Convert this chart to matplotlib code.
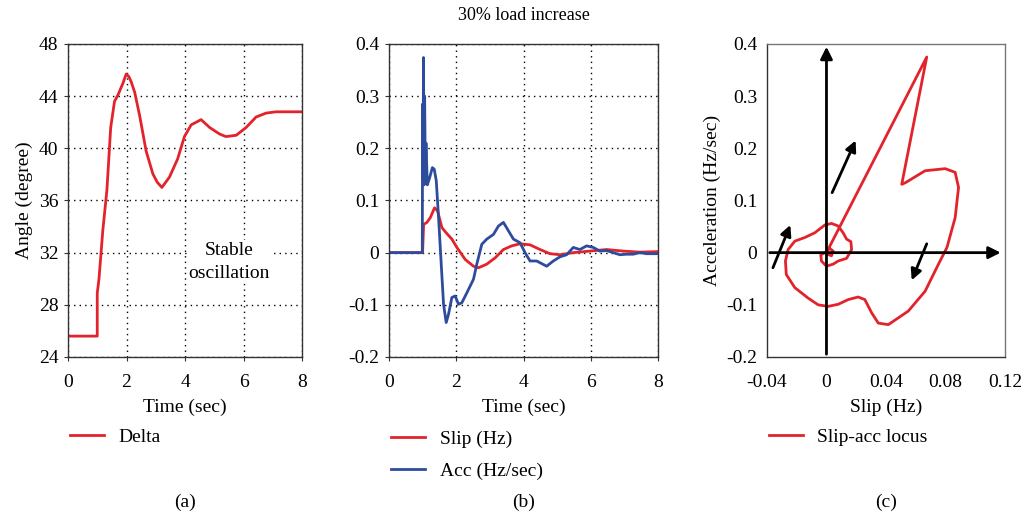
import numpy as np
import matplotlib
matplotlib.use("Agg")
import matplotlib.pyplot as plt

plt.rcParams["font.family"] = ["Liberation Serif", "DejaVu Serif"]
plt.rcParams["axes.unicode_minus"] = False

# (a) rotor angle
t_a = [0, 1.0, 1.0, 1.06, 1.19, 1.33, 1.46, 1.59, 1.71, 1.88, 1.99, 2.08, 2.16, 2.28, 2.45, 2.67,
       2.9, 3.05, 3.21, 3.47, 3.75, 3.98, 4.21, 4.55, 4.84, 5.18, 5.4, 5.75, 6.09, 6.43, 6.77,
       7.11, 8.0]
delta = [25.6, 25.6, 28.9, 30.0, 33.7, 36.8, 41.6, 43.6, 44.1, 45.0, 45.7, 45.5, 45.1, 44.3, 42.5,
         39.8, 38.05, 37.4, 37.0, 37.8, 39.2, 40.9, 41.8, 42.2, 41.6, 41.1, 40.9, 41.0, 41.6, 42.4,
         42.7, 42.8, 42.8]

# (b) slip and acceleration
t_slip = [0, 0.999, 1.029, 1.128, 1.227, 1.355, 1.444, 1.573, 1.701, 1.869, 2.018, 2.265, 2.512,
          2.661, 2.908, 3.155, 3.403, 3.65, 3.897, 4.194, 4.491, 4.787, 5.084, 5.48, 5.974, 6.469,
          6.963, 7.458, 8.0]
slip = [0, 0, 0.054, 0.058, 0.067, 0.086, 0.08, 0.048, 0.038, 0.026, 0.01, -0.013, -0.026,
        -0.029, -0.022, -0.01, 0.006, 0.013, 0.017, 0.015, 0.006, -0.002, -0.004, 0, 0.003, 0.006,
        0.003, 0.001, 0.002]

t_acc = [0, 0.99, 1.0, 1.015, 1.025, 1.045, 1.06, 1.08, 1.10, 1.14, 1.21, 1.29, 1.345, 1.405,
         1.474, 1.553, 1.622, 1.701, 1.77, 1.869, 1.968, 2.067, 2.166, 2.315, 2.512, 2.611, 2.759,
         2.908, 3.106, 3.254, 3.403, 3.551, 3.699, 3.897, 4.045, 4.194, 4.392, 4.688, 4.886, 5.084,
         5.282, 5.48, 5.678, 5.875, 6.073, 6.271, 6.469, 6.667, 6.865, 7.062, 7.26, 7.458, 7.656, 8.0]
acc = [0, 0, 0.285, 0.14, 0.374, 0.13, 0.30, 0.15, 0.21, 0.13, 0.144, 0.163, 0.16, 0.138,
       0.067, -0.022, -0.099, -0.134, -0.118, -0.086, -0.083, -0.099, -0.096, -0.077, -0.051, -0.022, 0.016,
       0.026, 0.035, 0.051, 0.058, 0.042, 0.026, 0.019, 0, -0.016, -0.016, -0.026, -0.016, -0.008,
       -0.004, 0.01, 0.006, 0.013, 0.01, 0.003, 0.004, 0, -0.004, -0.003, -0.003, 0, -0.002, -0.002]

# (c) slip-acceleration locus
locus_slip = [0, 0.0674, 0.0506, 0.053, 0.0663, 0.0798, 0.0865, 0.0888, 0.0865, 0.081, 0.0753,
              0.0663, 0.055, 0.0416, 0.0348, 0.0303, 0.0258, 0.0213, 0.0146, 0.0079, 0.001, -0.0056,
              -0.0124, -0.0213, -0.027, -0.0276, -0.0258, -0.0213, -0.0146, -0.0079, -0.0011, 0.0034,
              0.0079, 0.0112, 0.0135, 0.0164, 0.0169, 0.0135, 0.0079, 0.0045, 0.0, -0.0034, -0.0038,
              -0.001, 0.0022, 0.0045, 0.0034, 0.0007, 0.0]
locus_acc = [0, 0.375, 0.131, 0.134, 0.157, 0.161, 0.154, 0.125, 0.067, 0.01, -0.022,
             -0.074, -0.112, -0.138, -0.135, -0.115, -0.09, -0.085, -0.09, -0.099, -0.103, -0.1,
             -0.087, -0.067, -0.042, -0.016, 0.006, 0.022, 0.029, 0.038, 0.053, 0.056,
             0.051, 0.038, 0.026, 0.021, 0.006, -0.011, -0.016, -0.022, -0.026, -0.016, -0.004,
             0, 0.008, 0.003, -0.006, -0.003, 0]

# direction arrows on the locus (start -> end)
arrows_c = [((0.0038, 0.115), (0.0196, 0.215)),
            ((0.0674, 0.017), (0.0573, -0.053)),
            ((-0.036, -0.029), (-0.0243, 0.053))]

red = "#e3232c"
blue = "#2e4c9e"
fs = 14

fig = plt.figure(figsize=(10.21, 5.2), dpi=100)
ax_a = fig.add_axes([0.0666, 0.3135, 0.2292, 0.6019])
ax_b = fig.add_axes([0.3810, 0.3135, 0.2635, 0.6019])
ax_c = fig.add_axes([0.7512, 0.3135, 0.2331, 0.6019])

for ax in (ax_a, ax_b, ax_c):
    for sp in ax.spines.values():
        sp.set_color("#333333")
        sp.set_linewidth(1.0)
    ax.tick_params(labelsize=fs, length=3, width=0.8, color="#333333", pad=4)
    ax.tick_params(axis="x", pad=9)

def fmt(v):
    return "%g" % round(v, 3)

leg_kw = dict(frameon=False, fontsize=fs, handlelength=1.75, handletextpad=0.75, borderaxespad=0)

# (a)
ax_a.plot(t_a, delta, color=red, lw=2.0, label="Delta")
ax_a.set_xlim(0, 8)
ax_a.set_ylim(24, 48)
ax_a.set_xticks([0, 2, 4, 6, 8])
ax_a.set_yticks(range(24, 49, 4))
ax_a.grid(True, color="black", linestyle=(0, (1, 3)), linewidth=1.0)
ax_a.set_axisbelow(True)
ax_a.set_xlabel("Time (sec)", fontsize=fs, labelpad=6)
ax_a.set_ylabel("Angle (degree)", fontsize=fs, labelpad=4)
ax_a.text(5.5, 31.3, "Stable\noscillation", fontsize=fs, ha="center", va="center",
          linespacing=1.45, bbox=dict(facecolor="white", edgecolor="none", pad=1))
ax_a.legend(loc="center left", bbox_to_anchor=(-0.025, -0.255), **leg_kw)
ax_a.text(0.5, -0.463, "(a)", transform=ax_a.transAxes, ha="center", va="center", fontsize=fs)

# (b)
ax_b.plot(t_slip, slip, color=red, lw=2.0, label="Slip (Hz)")
ax_b.plot(t_acc, acc, color=blue, lw=2.0, label="Acc (Hz/sec)")
ax_b.set_xlim(0, 8)
ax_b.set_ylim(-0.2, 0.4)
ax_b.set_xticks([0, 2, 4, 6, 8])
yt = np.arange(-0.2, 0.41, 0.1)
ax_b.set_yticks(yt)
ax_b.set_yticklabels([fmt(v) for v in yt])
ax_b.grid(True, color="black", linestyle=(0, (1, 3)), linewidth=1.0)
ax_b.set_axisbelow(True)
ax_b.set_xlabel("Time (sec)", fontsize=fs, labelpad=6)
ax_b.set_title("30% load increase", fontsize=fs - 1, pad=17)
ax_b.legend(loc="upper left", bbox_to_anchor=(-0.02, -0.208), labelspacing=0.75, **leg_kw)
ax_b.text(0.5, -0.463, "(b)", transform=ax_b.transAxes, ha="center", va="center", fontsize=fs)

# (c)
ax_c.plot(locus_slip, locus_acc, color=red, lw=2.0, label="Slip-acc locus")
ax_c.set_xlim(-0.04, 0.12)
ax_c.set_ylim(-0.2, 0.4)
xt = [-0.04, 0, 0.04, 0.08, 0.12]
ax_c.set_xticks(xt)
ax_c.set_xticklabels([fmt(v) for v in xt])
ax_c.set_yticks(yt)
ax_c.set_yticklabels([fmt(v) for v in yt])
ax_c.tick_params(length=0)
ax_c.tick_params(axis="y", pad=7)
ax_c.tick_params(axis="x", pad=12)
ax_c.spines["right"].set_color("#777777")
ax_c.spines["top"].set_color("#777777")
ax_c.annotate("", xy=(0, 0.4), xytext=(0, -0.2),
              arrowprops=dict(arrowstyle="-|>", color="black", lw=2.0, mutation_scale=18))
ax_c.annotate("", xy=(0.119, 0), xytext=(-0.04, 0),
              arrowprops=dict(arrowstyle="-|>", color="black", lw=2.0, mutation_scale=18))
for (x0, y0), (x1, y1) in arrows_c:
    ax_c.annotate("", xy=(x1, y1), xytext=(x0, y0),
                  arrowprops=dict(arrowstyle="-|>", color="black", lw=2.0, mutation_scale=16,
                                  shrinkA=0, shrinkB=0))
ax_c.set_xlabel("Slip (Hz)", fontsize=fs, labelpad=6)
ax_c.set_ylabel("Acceleration (Hz/sec)", fontsize=fs, labelpad=4)
ax_c.legend(loc="center left", bbox_to_anchor=(-0.025, -0.255), **leg_kw)
ax_c.text(0.5, -0.463, "(c)", transform=ax_c.transAxes, ha="center", va="center", fontsize=fs)

fig.savefig("out.png", dpi=100)
